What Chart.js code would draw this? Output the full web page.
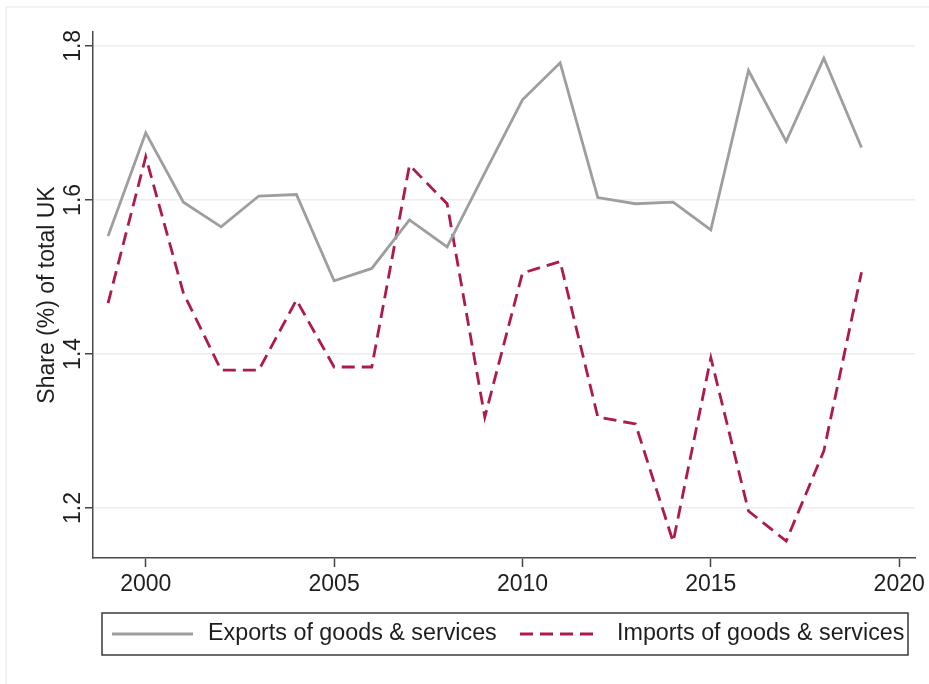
<!DOCTYPE html>
<html>
<head>
<meta charset="utf-8">
<script src="https://cdn.jsdelivr.net/npm/chart.js@4"></script>
<style>
  body { margin: 0; background: #fff; }
  #wrap { width: 929px; height: 684px; position: relative; }
</style>
</head>
<body>
<div id="wrap"><canvas id="myChart"></canvas></div>
<script>
const years = [1999, 2000, 2001, 2002, 2003, 2004, 2005, 2006, 2007, 2008, 2009,
  2010, 2011, 2012, 2013, 2014, 2015, 2016, 2017, 2018, 2019];
const exportsShare = [1.553, 1.687, 1.597, 1.565, 1.605, 1.607, 1.495, 1.511, 1.574, 1.539, 1.635,
  1.730, 1.778, 1.603, 1.595, 1.597, 1.561, 1.768, 1.676, 1.784, 1.668];
const importsShare = [1.466, 1.656, 1.479, 1.379, 1.379, 1.470, 1.383, 1.383, 1.645, 1.595, 1.318,
  1.505, 1.520, 1.318, 1.309, 1.156, 1.395, 1.196, 1.157, 1.274, 1.506];
const seriesLabels = ["Exports of goods & services", "Imports of goods & services"];
const yTicks = [1.2, 1.4, 1.6, 1.8];

const FONT = "'Liberation Sans', Arial, sans-serif";
const TXT = "#1e1e1e";

let toPoints = (vals) => vals.map((v, i) => ({ x: years[i], y: v }));

// legend box drawn by hand (Stata style, framed, below the plot)
const legendBox = {
  id: "legendBox",
  afterDraw(chart) {
    const ctx = chart.ctx;
    ctx.save();
    // faint outer frame of graph region
    ctx.strokeStyle = "#efefef";
    ctx.lineWidth = 1.5;
    ctx.strokeRect(6, 7, 940, 700);

    ctx.strokeStyle = "#3a3a3a";
    ctx.lineWidth = 1.5;
    ctx.strokeRect(102, 613, 806, 42);

    const items = [
      { x0: 112, x1: 193, tx: 208 },
      { x0: 520, x1: 598, tx: 617 }
    ];
    const ym = 634;
    chart.data.datasets.forEach((ds, i) => {
      const it = items[i];
      ctx.strokeStyle = ds.borderColor;
      ctx.lineWidth = ds.borderWidth;
      ctx.setLineDash(ds.borderDash || []);
      ctx.beginPath();
      ctx.moveTo(it.x0, ym);
      ctx.lineTo(it.x1, ym);
      ctx.stroke();
      ctx.setLineDash([]);
      ctx.fillStyle = TXT;
      ctx.font = "23.3px " + FONT;
      ctx.textBaseline = "middle";
      ctx.textAlign = "left";
      ctx.fillText(ds.label, it.tx, ym);
    });
    ctx.restore();
  }
};

const ctx = document.getElementById("myChart");
const chart = new Chart(ctx, {
  type: "line",
  data: {
    datasets: [
      {
        label: seriesLabels[0],
        data: toPoints(exportsShare),
        borderColor: "#9e9e9e",
        borderWidth: 2.8,
        pointRadius: 0,
        tension: 0,
        fill: false
      },
      {
        label: seriesLabels[1],
        data: toPoints(importsShare),
        borderColor: "#ad1a4b",
        borderWidth: 2.8,
        borderDash: [13, 7],
        pointRadius: 0,
        tension: 0,
        fill: false
      }
    ]
  },
  options: {
    responsive: true,
    maintainAspectRatio: false,
    animation: false,
    layout: { padding: { left: 0, right: 12, top: 32, bottom: 78 } },
    plugins: {
      legend: { display: false },
      tooltip: { enabled: false }
    },
    scales: {
      x: {
        type: "linear",
        min: 1998.6,
        max: 2020.42,
        afterFit: (s) => { s.height = 48; },
        ticks: {
          stepSize: 5,
          includeBounds: false,
          color: TXT,
          font: { family: FONT, size: 23 },
          padding: 4,
          maxRotation: 0,
          callback: (v) => String(v)
        },
        grid: {
          drawOnChartArea: false,
          tickLength: 9,
          tickColor: "#444",
          tickWidth: 1.5
        },
        border: { color: "#4a4a4a", width: 1.5 }
      },
      y: {
        min: 1.135,
        max: 1.818,
        afterFit: (s) => { s.width = 93; },
        afterBuildTicks: (s) => { s.ticks = yTicks.map((v) => ({ value: v })); },
        ticks: {
          color: TXT,
          font: { family: FONT, size: 23 },
          minRotation: 90,
          maxRotation: 90,
          crossAlign: "center",
          padding: -5,
          callback: (v) => Number(v).toFixed(1)
        },
        grid: {
          color: "#e9eef0",
          lineWidth: 1.5,
          tickLength: 8,
          tickColor: "#444",
          tickWidth: 1.5
        },
        border: { color: "#4a4a4a", width: 1.5 },
        title: {
          display: true,
          text: "Share (%) of total UK",
          color: TXT,
          font: { family: FONT, size: 23 },
          padding: { top: 34, bottom: 0 }
        }
      }
    }
  },
  plugins: [legendBox]
});
</script>
</body>
</html>
